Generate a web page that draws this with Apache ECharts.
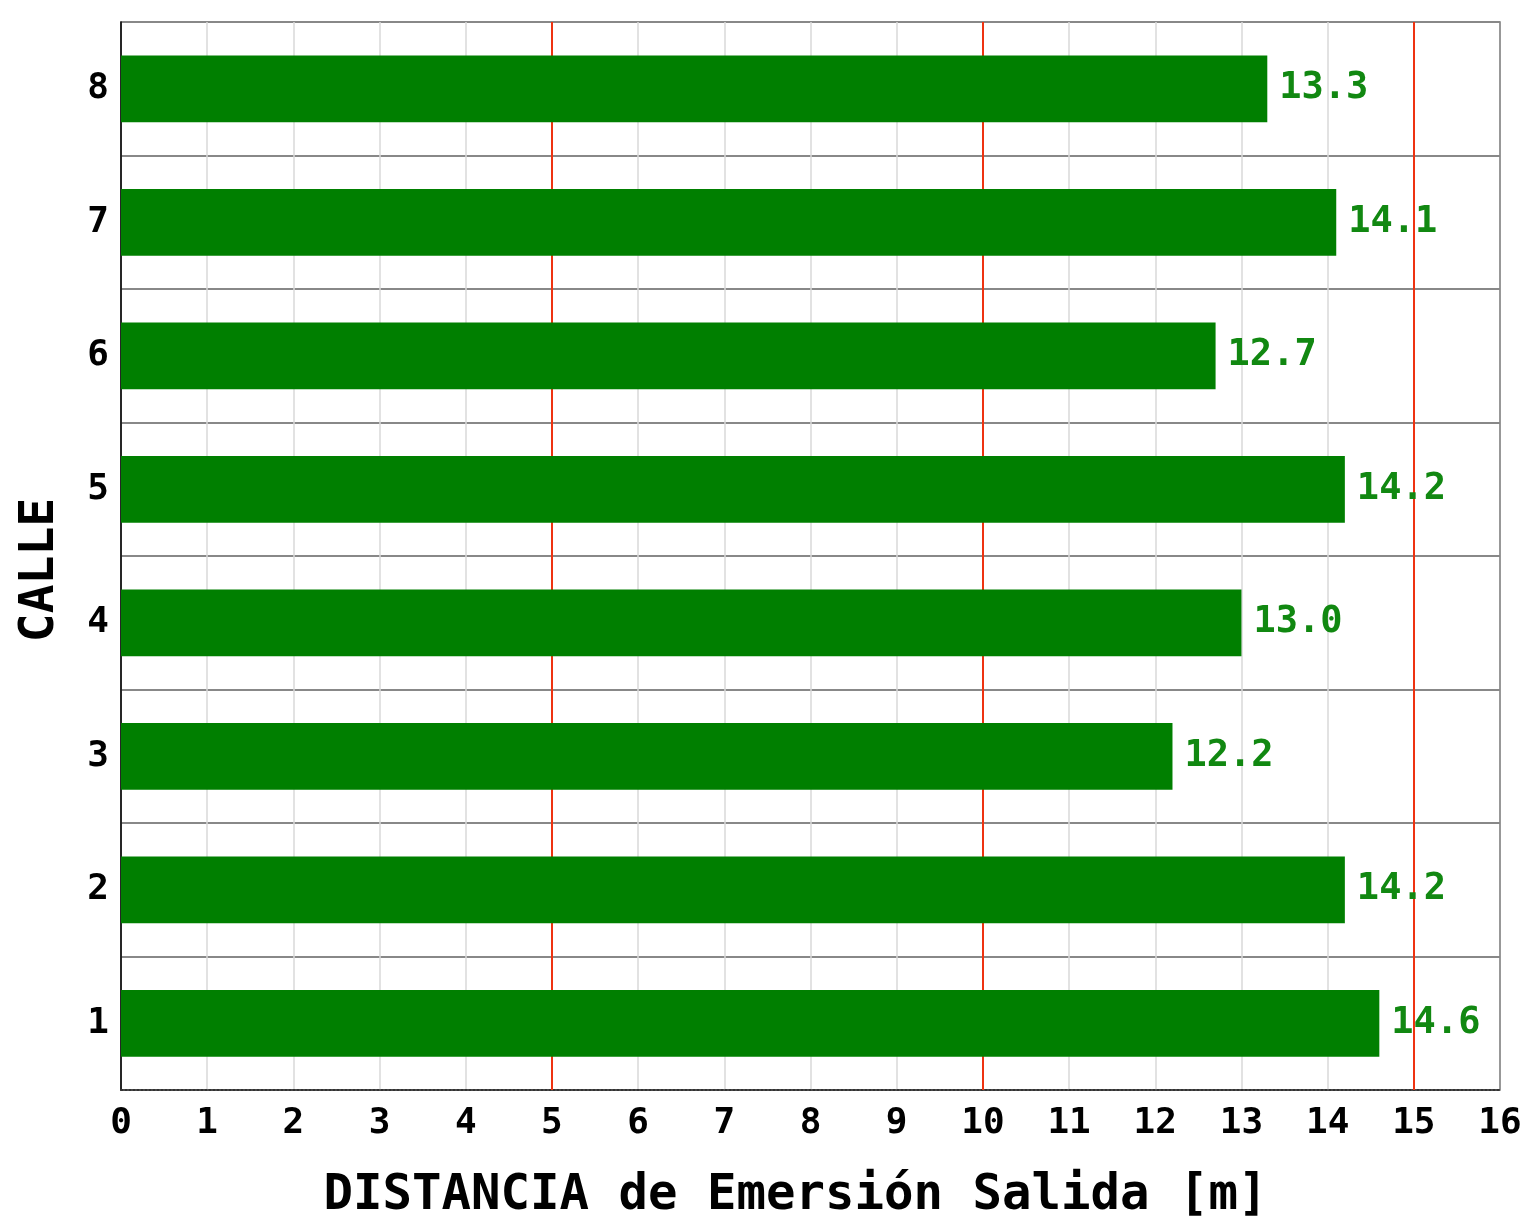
<!DOCTYPE html>
<html><head><meta charset="utf-8">
<script src="https://cdn.jsdelivr.net/npm/echarts@6/dist/echarts.min.js"></script>
<style>html,body{margin:0;padding:0;background:#fff}#c{width:1520px;height:1218px}</style>
</head><body><div id="c"></div>
<script>
const categories = ['1','2','3','4','5','6','7','8'];
const values = [14.6, 14.2, 12.2, 13.0, 14.2, 12.7, 14.1, 13.3];
const xTitle = 'DISTANCIA de Emersión Salida [m]';
const yTitle = 'CALLE';
const FONT = '"DejaVu Sans Mono", monospace';

const chart = echarts.init(document.getElementById('c'));
chart.setOption({
  backgroundColor: '#fff',
  animation: false,
  grid: {left: 121, right: 20, top: 22, bottom: 128, outerBoundsMode: 'none', containLabel: false,
    show: true, borderColor: '#777', borderWidth: 1.5},
  xAxis: [{
    type: 'value', min: 0, max: 16, interval: 1,
    name: xTitle, nameLocation: 'middle', nameGap: 82,
    nameTextStyle: {fontFamily: FONT, fontWeight: 'bold', fontSize: 49, color: '#000', padding: [0, 30, 0, 0]},
    axisLine: {show: true, lineStyle: {color: '#333', width: 2, type: 'dotted'}},
    axisTick: {show: false},
    axisLabel: {fontFamily: FONT, fontWeight: 'bold', fontSize: 36, color: '#000', margin: 16},
    splitLine: {show: true, showMinLine: false, showMaxLine: false, lineStyle: {color: '#d8d8d8', width: 1.5}}
  }, {
    type: 'value', min: 0, max: 16, interval: 5, position: 'bottom',
    axisLine: {show: false}, axisTick: {show: false}, axisLabel: {show: false},
    splitLine: {show: true, showMinLine: false, showMaxLine: false, lineStyle: {color: '#ee3311', width: 2}}, z: 1
  }],
  yAxis: {
    type: 'category', data: categories,
    name: yTitle, nameLocation: 'middle', nameGap: 56, nameRotate: 90,
    nameTextStyle: {fontFamily: FONT, fontWeight: 'bold', fontSize: 48, color: '#000', padding: [0, 0, 0, -28]},
    axisLine: {show: true, lineStyle: {color: '#000', width: 1.5}},
    axisTick: {show: false},
    axisLabel: {fontFamily: FONT, fontWeight: 'bold', fontSize: 36, color: '#000', margin: 12},
    splitLine: {show: true, lineStyle: {color: '#888', width: 2}}
  },
  series: [{
    type: 'bar', data: values, barWidth: '50%', xAxisIndex: 0, z: 3,
    itemStyle: {color: '#007f00'},
    label: {show: true, position: 'right', distance: 12, formatter: p => p.value.toFixed(1),
      fontFamily: FONT, fontWeight: 'bold', fontSize: 37, color: '#118811'}
  }]
});
</script></body></html>
